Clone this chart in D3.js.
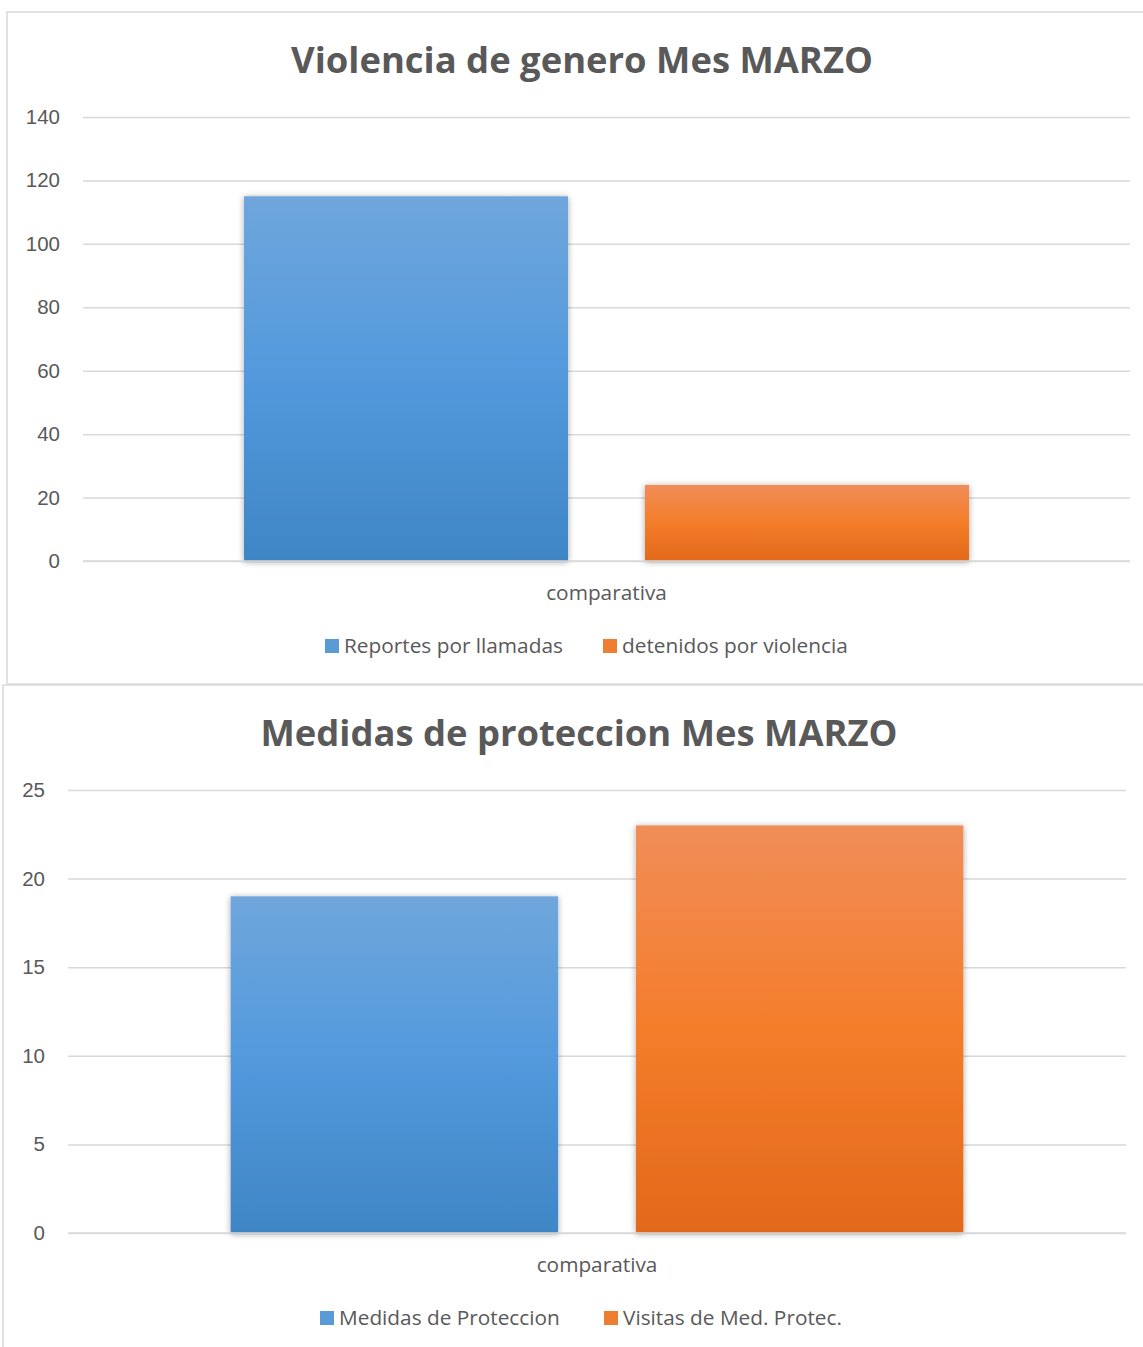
<!DOCTYPE html>
<html>
<head>
<meta charset="utf-8">
<script src="https://cdn.jsdelivr.net/npm/d3@7"></script>
<style>
    body { margin: 0; background: #fff; }
    svg { display: block; font-family: "Open Sans", sans-serif; }
</style>
</head>
<body>
<svg id="chart" width="1143" height="1347"></svg>
<script>
// chart 1
const category = ['comparativa'];
const violenciaSeries = ['Reportes por llamadas', 'detenidos por violencia'];
const violenciaValues = [115, 24];
const violenciaTicks = [0, 20, 40, 60, 80, 100, 120, 140];

// chart 2
const medidasSeries = ['Medidas de Proteccion', 'Visitas de Med. Protec.'];
const medidasValues = [19, 23];
const medidasTicks = [0, 5, 10, 15, 20, 25];

const svg = d3.select('#chart');
const defs = svg.append('defs');

const blueGrad = defs.append('linearGradient').attr('id', 'gBlue').attr('x1', 0).attr('y1', 0).attr('x2', 0).attr('y2', 1);
blueGrad.append('stop').attr('offset', '0%').attr('stop-color', '#6fa6dc');
blueGrad.append('stop').attr('offset', '50%').attr('stop-color', '#5299dc');
blueGrad.append('stop').attr('offset', '100%').attr('stop-color', '#3f86c6');

const orangeGrad = defs.append('linearGradient').attr('id', 'gOrange').attr('x1', 0).attr('y1', 0).attr('x2', 0).attr('y2', 1);
orangeGrad.append('stop').attr('offset', '0%').attr('stop-color', '#f08d58');
orangeGrad.append('stop').attr('offset', '50%').attr('stop-color', '#f47d2a');
orangeGrad.append('stop').attr('offset', '100%').attr('stop-color', '#e2691a');

const shadow = defs.append('filter').attr('id', 'shadow').attr('x', '-10%').attr('y', '-10%').attr('width', '120%').attr('height', '120%');
shadow.append('feDropShadow').attr('dx', 0).attr('dy', 1).attr('stdDeviation', 3).attr('flood-color', '#000').attr('flood-opacity', 0.35);

const fills = ['url(#gBlue)', 'url(#gOrange)'];
const legendFills = ['#5b9bd5', '#ed7d31'];

function drawChart(opt) {
    const g = svg.append('g');

    // frame
    g.append('rect')
        .attr('x', opt.frame[0]).attr('y', opt.frame[1])
        .attr('width', opt.frame[2]).attr('height', opt.frame[3])
        .attr('fill', '#fff').attr('stroke', '#d9d9d9').attr('stroke-width', 1.5);

    const x0 = d3.scaleBand().domain(category).range([opt.left, opt.right]).paddingOuter(0.222).paddingInner(0);
    const x1 = d3.scaleBand().domain(opt.series).range([0, x0.bandwidth()]).paddingInner(0.192).paddingOuter(0);
    const y = d3.scaleLinear().domain([0, d3.max(opt.ticks)]).range([opt.bottom, opt.top]);

    // gridlines
    const yAxis = d3.axisLeft(y).tickValues(opt.ticks).tickSize(-(opt.right - opt.left)).tickPadding(23);
    const ga = g.append('g').attr('transform', `translate(${opt.left},0)`).call(yAxis);
    ga.select('.domain').remove();
    ga.selectAll('.tick line').attr('stroke', '#d9d9d9').attr('stroke-width', 1.5);
    ga.selectAll('.tick text').attr('fill', '#595959').style('font-size', '20.5px');

    // bars
    g.selectAll('.bar')
        .data(opt.values)
        .enter()
        .append('rect')
        .attr('class', 'bar')
        .attr('x', (d, i) => x0(category[0]) + x1(opt.series[i]))
        .attr('y', d => y(d))
        .attr('width', x1.bandwidth())
        .attr('height', d => y(0) - y(d))
        .attr('fill', (d, i) => fills[i])
        .attr('filter', 'url(#shadow)');

    // category axis line
    g.append('line')
        .attr('x1', opt.left).attr('x2', opt.right)
        .attr('y1', y(0)).attr('y2', y(0))
        .attr('stroke', '#d9d9d9').attr('stroke-width', 1.5);

    // title
    g.append('text')
        .attr('x', opt.titleX).attr('y', opt.titleY)
        .attr('text-anchor', 'middle')
        .attr('fill', '#595959')
        .style('font-size', '36.4px').style('font-weight', 'bold')
        .text(opt.title);

    // category label
    g.append('text')
        .attr('x', x0(category[0]) + x0.bandwidth() / 2).attr('y', y(0) + 39)
        .attr('text-anchor', 'middle')
        .attr('fill', '#595959')
        .style('font-size', '20.8px')
        .text(category[0]);

    // legend
    const lg = g.append('g').attr('transform', `translate(0,${opt.legendY})`);
    opt.series.forEach((s, i) => {
        lg.append('rect')
            .attr('x', opt.legendX[i]).attr('y', -7)
            .attr('width', 14).attr('height', 14)
            .attr('fill', legendFills[i]);
        lg.append('text')
            .attr('x', opt.legendX[i] + 19).attr('y', 7)
            .attr('fill', '#595959')
            .style('font-size', '20.8px')
            .text(s);
    });
}

drawChart({
    frame: [7, 12, 1150, 672],
    left: 83, right: 1130, top: 117, bottom: 561,
    series: violenciaSeries, values: violenciaValues, ticks: violenciaTicks,
    title: 'Violencia de genero Mes MARZO', titleX: 582, titleY: 73,
    legendY: 646, legendX: [325, 603]
});

drawChart({
    frame: [3, 685, 1150, 680],
    left: 68, right: 1126, top: 790, bottom: 1233,
    series: medidasSeries, values: medidasValues, ticks: medidasTicks,
    title: 'Medidas de proteccion Mes MARZO', titleX: 579, titleY: 746,
    legendY: 1318, legendX: [320, 604]
});
</script>
</body>
</html>
